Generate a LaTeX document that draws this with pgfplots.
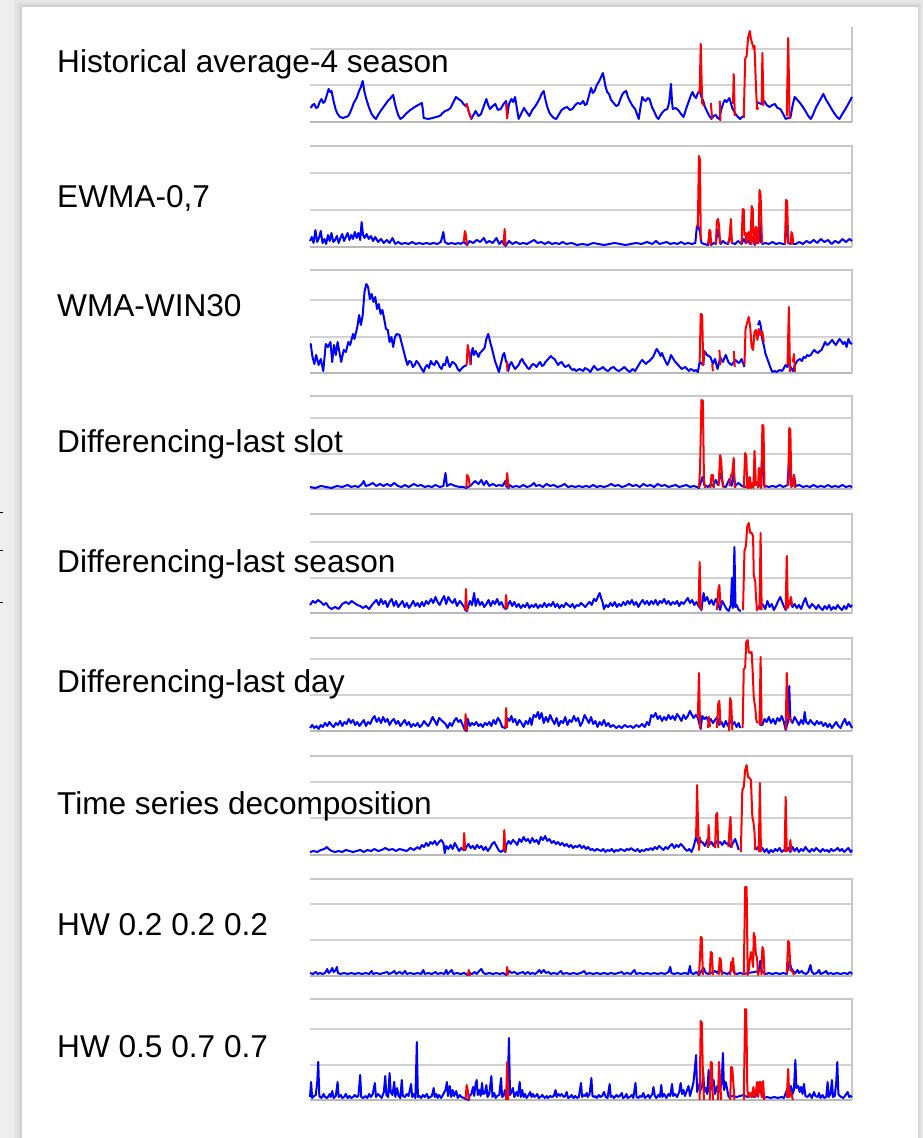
\documentclass[border=0pt]{standalone}
\usepackage{pgfplots}
\pgfplotsset{compat=1.18}
\usepackage{fontspec}
\newfontfamily\lab{Liberation Sans}
\definecolor{gridc}{RGB}{210,210,210}
\definecolor{bordc}{RGB}{200,200,200}
\definecolor{axc}{RGB}{185,185,185}
\definecolor{pblue}{RGB}{0,0,255}
\definecolor{pred}{RGB}{255,0,0}
\definecolor{bgc}{RGB}{238,238,238}
\pgfplotsset{
  panel/.style={scale only axis, width=542pt, xmin=0, xmax=1512, ymin=0,
    xtick=\empty, yticklabels={}, major tick length=0pt,
    axis line style={draw=none}, ymajorgrids, grid style={draw=gridc, line width=1.5pt},
    anchor=south west, clip=false, unbounded coords=jump},
  bl/.style={pblue, line width=2pt, line join=round},
  rd/.style={pred, line width=2pt, line join=round},
}
\newcommand{\frameTRB}{%
  \draw[bordc, line width=1.2pt] (rel axis cs:0,1) -- (rel axis cs:1,1) -- (rel axis cs:1,0);
  \draw[axc, line width=1.5pt] (rel axis cs:0,0) -- (rel axis cs:1,0);}
\begin{document}
\begin{tikzpicture}
\useasboundingbox (0pt,0pt) rectangle (923pt,1138pt);
\fill[bgc] (0pt,0pt) rectangle (923pt,1138pt);
\fill[black,opacity=0.03] (14pt,0pt) rectangle (923pt,1138pt);
\fill[black,opacity=0.04] (17pt,0pt) rectangle (921pt,1135pt);
\fill[black,opacity=0.05] (20pt,0pt) rectangle (919pt,1133pt);
\fill[white] (22pt,0pt) rectangle (918pt,1131pt);
\draw[black, line width=0.8pt] (0pt,626pt) -- (3pt,626pt);
\draw[black, line width=0.8pt] (0pt,588pt) -- (3pt,588pt);
\draw[black, line width=0.8pt] (0pt,536pt) -- (3pt,536pt);

% ---------- Panel 1 ----------
\begin{axis}[panel, at={(310pt,1016pt)}, height=95pt, ymax=95, ytick={37,73}]
\draw[bordc, line width=1.2pt] (rel axis cs:1,0) -- (rel axis cs:1,1);
\draw[axc, line width=1.5pt] (rel axis cs:0,0) -- (rel axis cs:1,0);
\addplot[bl] coordinates {(2,14) (7,17) (12,18) (17,14) (22,15) (27,20) (32,23) (37,19) (42,21) (47,27) (52,33) (56,30) (60,31) (64,24) (67,19) (72,12) (77,8) (84,5) (92,4) (100,5) (107,6) (115,12) (122,19) (130,24) (137,31) (142,35) (147,41) (152,30) (157,23) (165,14) (172,8) (178,5) (184,3) (190,7) (197,11) (207,16) (217,21) (225,24) (232,27) (236,20) (240,14) (246,7) (252,3) (260,5) (267,8) (280,12) (292,15) (302,17) (312,19) (315,12) (317,4) (330,3) (342,4) (352,5) (362,6) (370,9) (377,11) (385,12) (392,14) (400,20) (407,25) (414,23) (422,21) (428,18) (434,16) (437,18) (444,9) (450,3) (456,7) (462,11) (470,6) (477,8) (484,15) (492,23) (497,17) (502,13) (510,16) (517,18) (524,12) (532,13) (540,18) (547,21) (550,5) (555,18) (562,23) (567,20) (572,25) (577,14) (582,3) (590,9) (597,14) (604,10) (612,6) (620,12) (627,15) (634,19) (640,23) (646,28) (652,31) (657,22) (662,15) (667,10) (672,7) (680,4) (687,3) (695,8) (702,12) (710,14) (717,15) (725,12) (732,13) (740,17) (747,19) (755,18) (762,21) (767,17) (772,18) (778,26) (784,34) (789,29) (794,31) (800,37) (807,41) (812,45) (817,49) (821,42) (824,36) (829,30) (834,28) (840,22) (847,19) (854,16) (860,17) (866,23) (872,28) (877,30) (882,31) (887,25) (892,21) (900,16) (907,13) (912,8) (917,3) (922,15) (927,25) (932,22) (937,21) (942,24) (947,23) (954,15) (962,9) (967,5) (972,3) (978,7) (984,10) (990,12) (997,13) (1002,20) (1007,38) (1010,20) (1012,13) (1020,14) (1027,12) (1035,8) (1042,5) (1050,14) (1057,21) (1062,26) (1067,30) (1072,26) (1077,24) (1082,29) (1087,31) (1092,25) (1097,21) (1102,15) (1107,11) (1114,6) (1120,3) (1126,6) (1132,7) (1137,4) (1142,3) (1147,12) (1152,18) (1157,22) (1162,20) (1166,22) (1170,24) (1178,14) (1187,8) (1194,5) (1200,3) (1205,5) (1210,6) (1211,nan) (1246,20) (1252,19) (1260,18) (1267,21) (1274,17) (1282,15) (1290,17) (1297,18) (1304,14) (1312,13) (1320,8) (1327,3) (1334,4) (1340,4) (1346,16) (1352,25) (1360,22) (1367,19) (1375,15) (1382,11) (1390,6) (1397,3) (1404,8) (1412,15) (1420,20) (1426,24) (1432,28) (1440,22) (1447,18) (1455,13) (1462,9) (1470,5) (1477,3) (1485,8) (1492,12) (1500,17) (1506,21) (1512,25)};
\addplot[rd] coordinates {(434,16) (437,18) (444,9) (450,3) (451,nan) (548,19) (550,3) (551,nan) (1082,29) (1087,31) (1090,78) (1094,19) (1100,16) (1101,nan) (1118,19) (1122,3) (1123,nan) (1143,21) (1145,1) (1146,nan) (1180,18) (1182,48) (1185,6) (1186,nan) (1210,4) (1214,63) (1218,66) (1222,84) (1227,91) (1230,83) (1234,78) (1238,73) (1240,76) (1244,36) (1247,13) (1252,14) (1253,nan) (1260,19) (1262,69) (1265,16) (1266,nan) (1330,6) (1334,84) (1338,3)};
\end{axis}

% ---------- Panel 2 ----------
\begin{axis}[panel, at={(310pt,891pt)}, height=101pt, ymax=101, ytick={37,74}]
\frameTRB
\addplot[bl] coordinates {(0,6) (5,10) (10,4) (15,17) (20,5) (25,9) (30,16) (35,4) (40,8) (45,3) (50,12) (55,6) (60,14) (65,5) (70,7) (75,11) (80,4) (85,9) (90,13) (95,6) (100,10) (105,14) (110,7) (115,12) (120,8) (125,15) (130,9) (135,14) (140,7) (144,25) (148,12) (152,9) (158,13) (164,8) (170,11) (176,6) (182,10) (190,5) (198,8) (206,4) (214,7) (222,4) (230,9) (238,3) (246,5) (255,3) (265,4) (275,3) (285,5) (295,3) (305,4) (315,3) (325,4) (335,3) (345,4) (355,3) (365,5) (372,15) (376,5) (385,3) (395,4) (405,3) (415,4) (420,3) (429,5) (438,2) (445,6) (455,4) (465,7) (475,5) (485,9) (492,4) (500,6) (510,4) (520,9) (528,3) (535,6) (540,3) (546,1) (555,6) (565,3) (575,5) (585,3) (595,4) (605,3) (615,5) (625,7) (635,4) (645,5) (655,3) (665,5) (675,3) (685,4) (695,3) (705,5) (715,3) (730,4) (745,2) (760,3) (775,2) (790,4) (805,3) (820,2) (835,3) (850,4) (865,3) (880,2) (895,3) (910,4) (925,3) (940,5) (955,3) (965,6) (975,3) (985,4) (995,5) (1005,3) (1015,4) (1025,3) (1035,5) (1045,3) (1055,4) (1065,3) (1075,4) (1079,20) (1082,22) (1088,15) (1092,4) (1100,3) (1110,2) (1114,12) (1119,2) (1126,4) (1132,3) (1137,17) (1142,10) (1146,3) (1152,6) (1158,4) (1166,3) (1170,8) (1174,15) (1177,4) (1186,3) (1194,6) (1204,3) (1210,8) (1216,4) (1222,6) (1228,3) (1234,9) (1241,2) (1246,5) (1251,4) (1254,28) (1257,6) (1262,3) (1270,4) (1280,3) (1290,5) (1300,3) (1310,4) (1320,3) (1325,3) (1329,28) (1334,4) (1341,3) (1344,10) (1348,3) (1355,3) (1365,5) (1375,3) (1385,6) (1395,4) (1405,7) (1415,4) (1425,8) (1435,5) (1445,7) (1455,3) (1465,6) (1475,4) (1485,8) (1495,5) (1505,8) (1512,6)};
\addplot[rd] coordinates {(429,5) (432,16) (435,12) (438,2) (439,nan) (540,3) (543,18) (546,1) (547,nan) (1079,20) (1082,22) (1085,91) (1088,87) (1090,7) (1091,nan) (1112,2) (1114,17) (1117,16) (1119,2) (1120,nan) (1132,3) (1135,26) (1138,28) (1141,22) (1144,3) (1145,nan) (1166,3) (1170,8) (1174,28) (1177,4) (1178,nan) (1204,3) (1207,38) (1210,37) (1212,12) (1215,14) (1218,4) (1221,13) (1224,15) (1227,5) (1230,12) (1232,2) (1233,nan) (1229,3) (1232,41) (1235,38) (1237,6) (1238,nan) (1241,2) (1243,20) (1246,19) (1248,3) (1249,nan) (1251,4) (1254,57) (1257,52) (1259,28) (1261,3) (1262,nan) (1325,3) (1328,47) (1331,46) (1334,4) (1335,nan) (1341,3) (1343,15) (1346,12) (1348,3)};
\end{axis}

% ---------- Panel 3 ----------
\begin{axis}[panel, at={(310pt,765pt)}, height=103pt, ymax=103, ytick={36,73}]
\frameTRB
\addplot[bl] coordinates {(0,29) (2,29) (7,16) (12,9) (17,18) (24,8) (30,14) (37,2) (44,29) (50,26) (57,31) (62,11) (67,28) (72,18) (77,31) (82,21) (87,11) (94,23) (100,21) (107,31) (112,28) (120,39) (124,34) (132,46) (137,58) (142,48) (147,58) (152,81) (157,89) (162,86) (167,74) (172,79) (177,71) (182,76) (187,64) (192,69) (197,59) (202,63) (207,54) (212,44) (217,43) (222,31) (227,36) (232,26) (237,36) (242,39) (250,38) (257,28) (262,21) (267,14) (272,8) (277,12) (282,11) (287,6) (292,8) (297,12) (302,10) (310,5) (317,1) (322,6) (327,8) (332,5) (337,12) (342,9) (347,8) (352,12) (357,10) (362,6) (367,4) (372,9) (377,8) (382,16) (386,10) (390,6) (397,11) (402,10) (407,8) (412,4) (417,2) (422,4) (427,6) (432,7) (437,8) (438,nan) (448,8) (450,20) (454,25) (457,18) (462,22) (466,19) (470,16) (474,20) (477,21) (482,23) (487,25) (492,34) (497,39) (500,35) (504,29) (508,24) (512,18) (516,12) (520,8) (524,4) (527,1) (531,7) (535,13) (538,18) (542,20) (547,11) (550,11) (553,2) (557,8) (562,11) (567,7) (572,4) (577,6) (582,8) (587,12) (592,14) (597,10) (602,8) (607,5) (612,4) (617,7) (622,9) (627,8) (632,6) (637,9) (642,11) (647,7) (652,8) (657,11) (662,13) (667,15) (672,17) (677,15) (682,14) (687,11) (692,8) (697,10) (702,11) (707,8) (712,6) (717,7) (722,8) (727,5) (732,3) (737,4) (742,2) (747,3) (752,4) (757,3) (762,2) (767,5) (772,4) (777,3) (782,1) (787,4) (792,7) (797,5) (802,3) (810,4) (817,6) (825,3) (832,2) (840,5) (847,6) (855,3) (862,2) (870,4) (877,6) (885,3) (892,1) (900,4) (907,2) (912,5) (917,8) (922,11) (927,13) (932,11) (937,9) (942,11) (947,12) (952,14) (957,16) (962,20) (967,24) (971,22) (974,20) (978,17) (982,20) (986,16) (990,13) (994,10) (997,8) (1002,12) (1007,18) (1012,15) (1017,12) (1022,10) (1027,8) (1032,6) (1037,4) (1042,5) (1047,6) (1052,4) (1057,2) (1062,4) (1067,3) (1072,2) (1077,3) (1082,1) (1087,11) (1097,8) (1100,22) (1104,20) (1107,18) (1112,17) (1117,16) (1121,12) (1124,9) (1127,12) (1130,14) (1134,8) (1137,4) (1141,10) (1144,16) (1148,13) (1152,11) (1156,15) (1160,18) (1164,14) (1167,11) (1172,9) (1177,8) (1182,11) (1187,13) (1192,11) (1197,10) (1201,12) (1204,14) (1208,10) (1212,6) (1213,nan) (1250,48) (1254,52) (1258,46) (1262,33) (1267,26) (1270,20) (1274,16) (1278,12) (1282,8) (1286,4) (1290,1) (1296,2) (1302,1) (1310,3) (1317,2) (1322,5) (1327,8) (1332,6) (1337,9) (1342,5) (1347,2) (1352,7) (1357,11) (1362,13) (1367,14) (1372,12) (1377,16) (1382,15) (1387,18) (1392,17) (1397,18) (1402,21) (1407,23) (1412,21) (1417,20) (1422,22) (1427,23) (1432,27) (1437,31) (1442,28) (1447,29) (1452,31) (1457,33) (1462,30) (1467,28) (1472,31) (1477,34) (1482,32) (1487,29) (1492,31) (1497,26) (1502,34) (1507,30) (1512,29)};
\addplot[rd] coordinates {(437,8) (440,28) (444,20) (448,8) (449,nan) (549,11) (551,2) (552,nan) (1087,11) (1090,59) (1094,58) (1097,8) (1100,22) (1101,nan) (1122,9) (1124,2) (1125,nan) (1142,23) (1145,8) (1146,nan) (1182,22) (1185,6) (1186,nan) (1212,8) (1215,44) (1220,51) (1224,56) (1228,46) (1232,26) (1236,23) (1240,41) (1244,43) (1248,33) (1252,44) (1256,38) (1262,41) (1266,31) (1267,nan) (1332,8) (1336,66) (1339,1) (1340,nan) (1347,11) (1350,19) (1353,1)};
\end{axis}

% ---------- Panel 4 ----------
\begin{axis}[panel, at={(310pt,649pt)}, height=93pt, ymax=93, ytick={35,71}]
\frameTRB
\addplot[bl] coordinates {(0,2) (15,1) (30,3) (45,2) (60,1) (75,3) (90,2) (105,4) (115,2) (125,3) (135,2) (145,5) (150,8) (155,3) (165,4) (175,6) (185,3) (195,5) (205,3) (215,5) (225,3) (235,6) (245,3) (255,2) (265,4) (275,2) (290,5) (300,3) (310,4) (320,2) (330,3) (340,2) (350,4) (362,2) (372,3) (378,16) (382,3) (392,5) (405,3) (418,2) (428,2) (436,1) (446,3) (450,4) (460,8) (470,5) (478,9) (485,4) (492,8) (500,3) (510,5) (520,3) (528,4) (537,3) (545,8) (547,3) (554,1) (556,4) (565,2) (575,3) (585,2) (595,4) (605,2) (615,3) (625,6) (630,3) (640,4) (650,2) (660,5) (670,3) (680,4) (690,2) (700,3) (710,5) (720,2) (730,3) (740,2) (750,3) (760,2) (770,3) (780,2) (790,4) (800,2) (810,3) (820,2) (830,3) (840,5) (850,3) (860,4) (870,2) (880,3) (890,5) (900,3) (910,4) (920,2) (930,5) (940,3) (950,4) (960,2) (970,5) (980,3) (990,4) (1000,2) (1010,3) (1020,4) (1030,2) (1040,3) (1050,4) (1060,2) (1070,3) (1080,2) (1085,1) (1095,12) (1100,4) (1110,2) (1118,5) (1125,3) (1132,9) (1138,4) (1147,16) (1152,3) (1160,2) (1170,10) (1176,3) (1182,16) (1186,3) (1195,6) (1205,3) (1215,2) (1225,5) (1235,3) (1245,7) (1252,3) (1256,4) (1262,33) (1266,4) (1270,3) (1280,2) (1290,3) (1300,2) (1310,4) (1320,2) (1327,3) (1332,4) (1337,33) (1341,5) (1345,3) (1350,14) (1355,3) (1365,4) (1375,2) (1385,3) (1395,2) (1405,4) (1415,2) (1425,3) (1435,2) (1445,4) (1455,2) (1465,3) (1475,2) (1485,4) (1495,2) (1505,3) (1512,2)};
\addplot[rd] coordinates {(436,1) (438,14) (442,12) (446,3) (447,nan) (547,3) (550,16) (554,1) (555,nan) (1085,1) (1088,19) (1092,89) (1096,88) (1099,9) (1102,1) (1103,nan) (1117,1) (1120,14) (1124,14) (1127,1) (1128,nan) (1140,3) (1144,34) (1147,29) (1150,9) (1154,1) (1155,nan) (1170,3) (1174,13) (1178,16) (1182,31) (1185,1) (1186,nan) (1210,1) (1214,36) (1217,33) (1220,1) (1222,11) (1224,1) (1227,12) (1230,1) (1234,6) (1237,1) (1240,38) (1244,3) (1245,nan) (1250,1) (1252,21) (1255,19) (1258,1) (1259,3) (1262,64) (1265,63) (1268,1) (1269,nan) (1334,3) (1337,61) (1340,59) (1343,1) (1344,nan) (1348,3) (1350,14) (1353,1)};
\end{axis}

% ---------- Panel 5 ----------
\begin{axis}[panel, at={(310pt,525pt)}, height=99pt, ymax=99, ytick={35,71}]
\frameTRB
\addplot[bl] coordinates {(0,8) (8,12) (15,10) (22,13) (30,11) (38,8) (45,10) (52,6) (60,4) (70,6) (80,4) (90,9) (100,11) (108,9) (116,12) (124,10) (132,8) (140,7) (148,5) (156,7) (165,4) (175,9) (185,13) (192,8) (198,14) (204,9) (210,12) (216,6) (222,11) (228,14) (234,7) (240,12) (246,6) (252,9) (258,12) (264,6) (270,10) (276,5) (282,8) (288,12) (294,7) (300,10) (306,6) (312,11) (318,7) (324,12) (330,9) (338,14) (344,10) (350,16) (356,11) (362,8) (368,13) (374,17) (380,9) (386,16) (392,12) (398,10) (404,14) (410,7) (418,12) (424,9) (430,6) (433,3) (438,2) (440,5) (446,12) (452,8) (458,20) (462,7) (468,14) (474,8) (480,11) (486,6) (492,9) (498,13) (504,7) (510,12) (516,9) (522,14) (528,8) (534,11) (540,6) (545,4) (550,5) (552,8) (558,12) (564,7) (570,11) (576,6) (582,9) (588,5) (594,8) (600,6) (606,10) (612,5) (618,8) (624,6) (630,9) (636,5) (642,8) (648,6) (654,10) (660,6) (666,9) (672,7) (678,11) (684,6) (690,9) (696,5) (702,8) (708,6) (714,10) (720,8) (726,6) (732,9) (738,5) (744,8) (750,7) (756,10) (762,8) (768,6) (774,9) (780,11) (786,8) (792,14) (798,12) (804,17) (808,20) (812,15) (816,11) (820,4) (826,8) (832,6) (838,10) (844,7) (850,11) (856,6) (862,9) (868,7) (874,11) (880,8) (886,12) (892,9) (898,13) (904,8) (910,11) (916,6) (922,10) (928,13) (934,9) (940,12) (946,8) (952,12) (958,9) (964,13) (970,8) (976,12) (982,10) (988,14) (994,9) (1000,12) (1006,8) (1012,11) (1018,9) (1024,12) (1030,7) (1036,11) (1042,9) (1048,12) (1054,15) (1060,10) (1066,13) (1072,8) (1078,11) (1084,7) (1092,3) (1098,20) (1102,12) (1108,16) (1114,9) (1120,13) (1126,8) (1132,14) (1138,10) (1144,3) (1150,12) (1156,8) (1162,4) (1168,2) (1174,8) (1177,35) (1180,5) (1184,66) (1187,6) (1190,8) (1196,3) (1202,2) (1205,nan) (1250,4) (1252,6) (1258,10) (1264,8) (1270,4) (1276,12) (1282,6) (1288,9) (1294,3) (1300,7) (1306,12) (1312,16) (1318,10) (1324,5) (1327,3) (1334,12) (1340,10) (1346,6) (1352,9) (1358,5) (1364,8) (1370,4) (1376,10) (1382,15) (1388,8) (1394,5) (1400,9) (1406,7) (1412,4) (1418,8) (1424,5) (1430,3) (1436,7) (1442,4) (1448,8) (1454,3) (1460,6) (1466,4) (1472,8) (1478,5) (1484,3) (1490,7) (1496,4) (1502,9) (1508,6) (1512,8)};
\addplot[rd] coordinates {(433,3) (435,24) (438,2) (439,nan) (545,4) (547,18) (550,5) (551,nan) (1084,7) (1087,51) (1090,7) (1092,3) (1093,nan) (1135,3) (1139,23) (1142,28) (1145,7) (1146,nan) (1208,3) (1212,62) (1216,67) (1220,87) (1224,90) (1228,80) (1232,80) (1236,77) (1238,37) (1242,32) (1244,17) (1247,2) (1248,nan) (1254,3) (1257,80) (1260,3) (1261,nan) (1327,3) (1330,57) (1333,5) (1337,10) (1342,16) (1345,7)};
\end{axis}

% ---------- Panel 6 ----------
\begin{axis}[panel, at={(310pt,407pt)}, height=93pt, ymax=93, ytick={36,72}]
\frameTRB
\addplot[bl] coordinates {(0,3) (6,6) (12,3) (18,5) (24,2) (30,6) (36,4) (42,8) (48,5) (54,9) (60,6) (66,4) (72,8) (78,6) (84,10) (90,5) (96,9) (102,7) (108,12) (114,8) (120,11) (126,6) (132,9) (138,5) (144,8) (150,11) (156,5) (162,9) (168,7) (174,12) (180,15) (186,9) (192,13) (198,8) (204,14) (210,9) (216,12) (222,6) (228,10) (234,12) (240,7) (246,10) (252,5) (258,8) (264,11) (270,6) (276,9) (282,4) (288,7) (294,5) (300,8) (306,4) (312,6) (318,10) (324,7) (330,5) (336,9) (342,14) (348,10) (354,6) (360,13) (366,11) (372,9) (378,7) (384,3) (390,8) (396,5) (402,10) (408,13) (414,9) (420,11) (426,6) (432,1) (437,0) (440,12) (446,5) (452,8) (458,6) (464,9) (470,5) (476,7) (482,4) (488,8) (494,6) (500,9) (506,5) (512,11) (518,7) (524,13) (530,10) (536,4) (545,3) (550,13) (556,10) (562,15) (566,9) (572,12) (578,6) (584,11) (590,8) (596,4) (602,10) (608,7) (614,13) (618,6) (624,16) (630,14) (636,19) (640,12) (646,18) (652,8) (658,14) (664,9) (670,16) (676,11) (682,7) (688,13) (694,5) (700,10) (706,8) (712,14) (718,6) (724,11) (730,9) (736,15) (742,10) (748,13) (754,5) (760,9) (766,16) (772,12) (778,8) (784,14) (790,7) (796,10) (802,4) (808,9) (814,6) (820,11) (826,5) (832,8) (838,4) (846,6) (854,3) (862,5) (870,3) (878,6) (886,4) (894,5) (902,3) (910,6) (918,4) (926,7) (934,4) (940,9) (946,6) (952,16) (958,14) (964,18) (970,12) (976,15) (982,10) (988,14) (994,11) (1000,16) (1006,12) (1012,15) (1018,11) (1024,17) (1030,14) (1036,10) (1042,16) (1048,12) (1054,15) (1060,20) (1064,17) (1070,13) (1076,16) (1082,13) (1090,2) (1094,15) (1100,12) (1106,14) (1112,9) (1118,12) (1124,8) (1130,11) (1136,14) (1142,6) (1148,9) (1154,4) (1160,10) (1166,5) (1172,11) (1178,6) (1184,9) (1190,4) (1196,8) (1200,3) (1205,nan) (1254,6) (1262,6) (1268,12) (1274,9) (1280,14) (1286,8) (1292,12) (1298,7) (1304,13) (1310,10) (1316,15) (1322,9) (1327,1) (1334,10) (1337,45) (1340,12) (1346,8) (1352,14) (1358,10) (1364,6) (1370,11) (1376,7) (1380,19) (1384,9) (1390,7) (1396,11) (1402,8) (1408,6) (1414,10) (1420,7) (1426,9) (1432,5) (1438,8) (1444,4) (1450,7) (1456,3) (1462,6) (1468,9) (1474,5) (1480,3) (1486,8) (1492,12) (1498,6) (1504,9) (1512,3)};
\addplot[rd] coordinates {(432,1) (434,17) (437,0) (438,nan) (545,3) (547,23) (550,3) (551,nan) (1082,13) (1085,58) (1088,6) (1090,2) (1091,nan) (1110,3) (1113,14) (1116,4) (1117,nan) (1135,3) (1139,28) (1142,30) (1145,6) (1146,nan) (1169,0) (1172,33) (1175,29) (1178,1) (1179,nan) (1207,3) (1210,61) (1214,64) (1217,89) (1221,91) (1224,79) (1228,78) (1232,79) (1235,59) (1238,33) (1242,24) (1245,11) (1248,8) (1249,nan) (1254,6) (1257,74) (1260,6) (1261,nan) (1327,1) (1330,58) (1333,16) (1337,14) (1342,9)};
\end{axis}

% ---------- Panel 7 ----------
\begin{axis}[panel, at={(310pt,283pt)}, height=99pt, ymax=99, ytick={37,73}]
\frameTRB
\addplot[bl] coordinates {(0,3) (10,4) (20,3) (30,5) (40,6) (47,8) (52,6) (60,4) (70,3) (80,4) (90,3) (100,5) (110,4) (120,3) (130,4) (140,5) (150,3) (160,5) (170,4) (180,6) (190,4) (200,5) (210,7) (220,5) (230,6) (240,4) (250,6) (260,5) (270,4) (280,7) (290,5) (300,8) (306,6) (312,10) (318,8) (324,12) (330,9) (336,13) (342,11) (348,14) (354,10) (360,13) (366,15) (372,12) (376,2) (380,9) (386,6) (392,10) (398,6) (404,12) (410,8) (416,4) (422,7) (428,5) (433,5) (436,8) (442,11) (448,7) (454,9) (460,6) (466,10) (472,7) (478,9) (484,5) (490,8) (496,4) (502,7) (508,11) (514,13) (520,9) (526,5) (532,3) (540,5) (545,3) (548,10) (554,14) (560,11) (566,15) (572,13) (578,10) (584,16) (590,13) (596,18) (602,14) (608,16) (614,12) (620,17) (626,13) (632,15) (638,11) (644,18) (650,15) (656,19) (662,14) (668,16) (674,12) (680,14) (686,11) (692,13) (698,10) (704,12) (710,9) (716,11) (722,8) (728,10) (734,7) (740,9) (746,8) (752,10) (758,7) (764,9) (770,6) (776,8) (782,5) (788,6) (794,4) (800,6) (806,5) (812,4) (818,6) (824,3) (830,5) (836,4) (842,6) (848,3) (854,5) (860,4) (866,6) (872,5) (878,4) (884,6) (890,5) (896,7) (902,5) (908,4) (914,6) (920,3) (926,5) (932,4) (938,6) (944,5) (950,7) (956,5) (962,8) (968,6) (974,9) (980,7) (986,5) (992,8) (998,6) (1004,9) (1010,11) (1016,7) (1022,10) (1028,8) (1034,11) (1040,9) (1046,6) (1052,4) (1058,6) (1064,3) (1070,8) (1077,18) (1084,11) (1090,14) (1096,12) (1102,9) (1108,15) (1114,10) (1120,13) (1126,9) (1132,14) (1138,11) (1144,13) (1150,10) (1156,14) (1162,11) (1168,12) (1174,8) (1180,12) (1186,16) (1192,10) (1196,5) (1200,nan) (1244,5) (1250,8) (1256,4) (1262,7) (1268,3) (1274,6) (1280,2) (1286,5) (1292,3) (1298,6) (1304,4) (1310,7) (1316,3) (1322,5) (1328,4) (1334,7) (1340,3) (1346,8) (1352,4) (1358,7) (1364,3) (1370,6) (1376,4) (1382,8) (1388,5) (1394,3) (1400,6) (1406,4) (1412,7) (1418,5) (1424,3) (1430,6) (1436,4) (1442,5) (1448,3) (1454,6) (1460,4) (1466,5) (1472,7) (1478,4) (1484,6) (1490,3) (1496,5) (1502,7) (1508,3) (1512,5)};
\addplot[rd] coordinates {(428,5) (430,22) (433,5) (434,nan) (540,5) (542,25) (545,3) (546,nan) (1077,18) (1080,70) (1082,38) (1085,5) (1088,18) (1089,nan) (1110,7) (1112,30) (1115,10) (1116,nan) (1130,7) (1133,40) (1136,42) (1139,7) (1140,nan) (1167,8) (1170,25) (1173,38) (1176,7) (1177,nan) (1202,3) (1206,65) (1210,68) (1214,85) (1218,90) (1222,78) (1226,77) (1230,75) (1234,38) (1237,33) (1240,23) (1242,5) (1243,nan) (1252,3) (1255,72) (1258,3) (1259,nan) (1324,3) (1327,58) (1330,3) (1331,nan) (1338,5) (1340,15) (1343,3)};
\end{axis}

% ---------- Panel 8 ----------
\begin{axis}[panel, at={(310pt,162pt)}, height=97pt, ymax=97, ytick={36,72}]
\frameTRB
\addplot[bl] coordinates {(0,3) (8,2) (16,4) (22,2) (28,3) (35,2) (42,3) (48,7) (52,3) (58,5) (62,8) (66,4) (72,6) (75,9) (78,3) (85,2) (95,3) (105,2) (115,3) (125,2) (135,3) (145,2) (155,3) (165,2) (172,5) (176,2) (185,3) (195,2) (205,3) (215,4) (220,2) (228,3) (235,5) (240,2) (250,4) (258,2) (265,5) (270,2) (280,3) (290,2) (300,3) (310,2) (316,6) (320,2) (330,3) (340,2) (350,4) (356,2) (365,3) (375,2) (380,6) (384,2) (390,4) (395,6) (400,2) (410,3) (420,2) (430,3) (440,1) (446,3) (452,2) (460,4) (465,2) (472,5) (478,7) (484,3) (490,2) (500,3) (510,2) (520,3) (530,2) (538,3) (548,1) (556,5) (562,3) (570,4) (578,2) (586,3) (594,4) (600,2) (608,4) (614,2) (620,3) (628,2) (635,4) (640,6) (645,3) (652,6) (658,3) (665,4) (672,2) (680,3) (690,2) (700,5) (705,2) (715,3) (725,2) (735,3) (745,2) (755,3) (765,5) (770,2) (780,3) (790,2) (800,3) (810,2) (820,3) (830,2) (840,3) (850,2) (860,3) (870,4) (875,2) (885,3) (895,2) (905,6) (910,2) (920,3) (930,2) (940,3) (950,2) (960,3) (970,2) (980,3) (990,2) (1000,4) (1005,9) (1008,3) (1015,2) (1025,3) (1035,2) (1045,3) (1055,2) (1060,10) (1063,3) (1070,2) (1078,4) (1085,1) (1098,8) (1104,3) (1110,2) (1116,4) (1122,3) (1130,5) (1136,3) (1144,8) (1148,4) (1156,3) (1164,2) (1172,4) (1178,8) (1184,3) (1190,2) (1200,3) (1210,2) (1222,3) (1240,4) (1252,5) (1256,15) (1260,5) (1266,3) (1272,2) (1280,3) (1290,2) (1300,3) (1310,2) (1320,3) (1330,2) (1338,15) (1342,8) (1348,5) (1354,3) (1360,6) (1364,3) (1372,5) (1376,3) (1384,2) (1390,4) (1396,11) (1400,4) (1406,2) (1414,3) (1420,6) (1424,2) (1432,3) (1440,5) (1444,2) (1452,3) (1460,2) (1470,3) (1480,2) (1490,3) (1500,2) (1506,4) (1512,2)};
\addplot[rd] coordinates {(440,0) (443,6) (446,0) (447,nan) (548,1) (550,9) (553,1) (554,nan) (1085,1) (1088,18) (1090,39) (1093,38) (1096,1) (1097,nan) (1115,1) (1118,24) (1121,23) (1124,1) (1125,nan) (1140,1) (1143,18) (1146,16) (1149,1) (1150,nan) (1172,1) (1175,14) (1178,6) (1180,18) (1183,6) (1186,1) (1187,nan) (1210,1) (1214,89) (1218,89) (1221,1) (1224,6) (1227,16) (1230,24) (1233,19) (1236,9) (1238,43) (1241,39) (1244,21) (1247,19) (1250,1) (1253,6) (1254,nan) (1259,1) (1262,29) (1265,26) (1268,1) (1269,nan) (1330,3) (1334,35) (1337,33) (1340,6) (1347,4) (1350,1)};
\end{axis}

% ---------- Panel 9 ----------
\begin{axis}[panel, at={(310pt,38pt)}, height=101pt, ymax=101, ytick={35,71}]
\frameTRB
\addplot[bl] coordinates {(0,3) (3,18) (6,2) (12,4) (16,5) (20,17) (23,38) (26,4) (32,2) (38,6) (42,3) (48,2) (55,6) (58,3) (62,9) (66,2) (72,4) (77,18) (80,3) (86,5) (90,2) (95,3) (100,6) (105,2) (110,4) (115,2) (120,3) (125,5) (130,3) (135,4) (140,25) (143,3) (148,2) (155,4) (160,2) (165,6) (170,3) (175,6) (181,17) (184,3) (190,6) (195,4) (200,2) (206,8) (210,24) (213,5) (218,3) (222,27) (225,8) (230,5) (235,18) (238,3) (243,12) (247,4) (252,2) (256,20) (259,4) (265,3) (270,6) (275,4) (282,16) (285,3) (290,6) (294,2) (298,58) (301,3) (306,4) (310,2) (315,5) (320,3) (326,6) (330,2) (340,4) (345,12) (348,3) (352,6) (356,2) (360,5) (366,2) (372,6) (378,10) (382,18) (385,4) (390,14) (394,3) (398,10) (402,4) (408,9) (412,2) (418,5) (422,3) (430,2) (434,1) (443,0) (445,4) (450,6) (455,13) (458,4) (462,16) (465,20) (468,5) (472,10) (476,4) (480,17) (483,6) (488,7) (492,15) (495,3) (500,6) (506,24) (509,3) (514,7) (518,2) (522,4) (528,5) (533,22) (536,3) (540,4) (544,10) (549,4) (552,20) (555,62) (558,5) (562,8) (566,12) (570,3) (576,8) (580,4) (585,18) (588,3) (592,10) (596,3) (600,6) (604,2) (610,5) (614,8) (618,3) (622,6) (626,3) (630,4) (634,6) (638,2) (643,3) (648,5) (652,3) (656,2) (660,4) (664,2) (670,4) (675,3) (680,4) (685,10) (688,3) (693,6) (698,4) (702,6) (708,3) (712,4) (716,8) (720,2) (725,3) (730,5) (735,2) (740,4) (745,2) (750,3) (756,17) (759,3) (764,5) (768,4) (772,7) (775,3) (780,6) (785,22) (788,4) (792,3) (796,4) (800,2) (806,5) (810,3) (815,4) (820,8) (825,3) (830,2) (836,16) (839,3) (844,4) (848,2) (855,5) (860,3) (864,4) (870,7) (873,2) (878,3) (883,6) (886,2) (892,3) (898,5) (902,2) (908,17) (911,3) (916,2) (920,4) (925,3) (930,7) (934,2) (938,3) (944,5) (948,2) (955,6) (958,13) (962,4) (966,2) (972,5) (976,3) (980,15) (983,3) (988,6) (994,2) (1000,6) (1005,4) (1010,16) (1013,4) (1018,6) (1024,3) (1030,8) (1034,17) (1038,6) (1042,10) (1046,4) (1050,8) (1056,14) (1060,4) (1066,12) (1070,18) (1077,45) (1080,8) (1086,16) (1090,10) (1094,14) (1097,27) (1100,8) (1104,12) (1108,6) (1112,30) (1115,8) (1120,12) (1126,20) (1130,6) (1136,14) (1142,8) (1148,16) (1152,47) (1155,10) (1160,18) (1165,8) (1168,3) (1180,4) (1190,3) (1200,4) (1210,5) (1220,3) (1230,4) (1240,3) (1250,6) (1256,14) (1260,5) (1266,2) (1275,3) (1285,2) (1295,3) (1305,2) (1315,3) (1322,2) (1330,10) (1334,3) (1338,8) (1342,14) (1346,6) (1350,10) (1354,40) (1357,12) (1362,14) (1366,8) (1370,13) (1374,6) (1378,16) (1382,4) (1388,3) (1394,6) (1400,2) (1406,8) (1410,4) (1416,3) (1420,7) (1424,2) (1430,5) (1434,2) (1440,3) (1444,18) (1447,3) (1452,6) (1456,20) (1459,3) (1464,4) (1468,18) (1471,38) (1474,6) (1478,4) (1482,3) (1488,2) (1494,5) (1500,8) (1504,3) (1508,4) (1512,3)};
\addplot[rd] coordinates {(434,1) (437,15) (440,10) (443,0) (444,nan) (547,0) (550,38) (553,0) (554,nan) (1087,0) (1090,79) (1093,77) (1096,27) (1099,0) (1100,nan) (1115,0) (1118,38) (1121,37) (1124,0) (1125,nan) (1138,0) (1141,38) (1144,20) (1147,0) (1148,nan) (1172,0) (1175,33) (1178,32) (1181,17) (1184,0) (1185,nan) (1210,0) (1214,91) (1217,90) (1220,10) (1224,3) (1228,7) (1232,3) (1237,13) (1240,3) (1244,8) (1247,18) (1250,3) (1254,18) (1257,18) (1260,3) (1264,19) (1267,0) (1268,nan) (1330,2) (1334,31) (1337,3) (1342,8) (1347,0)};
\end{axis}

% ---------- Labels ----------
\begin{scope}[every node/.style={anchor=base west, inner sep=0pt, text=black, font=\lab\fontsize{31.6pt}{38pt}\selectfont}]
\node at (57pt,1065pt) {Historical average-4 season};
\node at (57pt,930pt) {EWMA-0,7};
\node at (57pt,821pt) {WMA-WIN30};
\node at (57pt,685pt) {Differencing-last slot};
\node at (57pt,565pt) {Differencing-last season};
\node at (57pt,445pt) {Differencing-last day};
\node at (57pt,323pt) {Time series decomposition};
\node at (57pt,202pt) {HW 0.2 0.2 0.2};
\node at (57pt,80pt) {HW 0.5 0.7 0.7};
\end{scope}
\end{tikzpicture}
\end{document}
